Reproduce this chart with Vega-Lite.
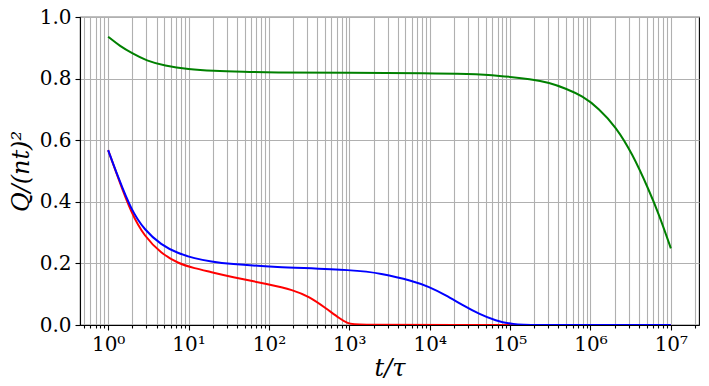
{
  "$schema": "https://vega.github.io/schema/vega-lite/v6.json",
  "width": 619,
  "height": 308,
  "autosize": {"type": "none"},
  "padding": {"left": 80, "top": 17, "right": 10, "bottom": 61},
  "background": "white",
  "config": {
    "view": {"stroke": "black", "strokeWidth": 1.1},
    "axis": {
      "domainColor": "black",
      "domainWidth": 1.1,
      "tickColor": "black",
      "tickWidth": 1.1,
      "gridColor": "#b0b0b0",
      "gridWidth": 1.1,
      "gridOpacity": 1,
      "labelFont": "DejaVu Serif",
      "labelFontSize": 20,
      "labelColor": "black",
      "titleFont": "DejaVu Serif",
      "titleFontSize": 24,
      "titleFontWeight": "normal",
      "titleFontStyle": "italic",
      "titleColor": "black"
    }
  },
  "data": {
    "values": [
      {"t": 1, "v": 0.568, "s": "red"},
      {"t": 1.32, "v": 0.480, "s": "red"},
      {"t": 1.94, "v": 0.363, "s": "red"},
      {"t": 2.84, "v": 0.287, "s": "red"},
      {"t": 4.57, "v": 0.233, "s": "red"},
      {"t": 7.36, "v": 0.200, "s": "red"},
      {"t": 11.9, "v": 0.184, "s": "red"},
      {"t": 19.1, "v": 0.172, "s": "red"},
      {"t": 33, "v": 0.157, "s": "red"},
      {"t": 100, "v": 0.132, "s": "red"},
      {"t": 200, "v": 0.114, "s": "red"},
      {"t": 316, "v": 0.092, "s": "red"},
      {"t": 513, "v": 0.054, "s": "red"},
      {"t": 750, "v": 0.022, "s": "red"},
      {"t": 955, "v": 0.005, "s": "red"},
      {"t": 1200, "v": 0.0, "s": "red"},
      {"t": 10000, "v": 0.0, "s": "red"},
      {"t": 10000000, "v": 0.0, "s": "red"},
      {"t": 1, "v": 0.568, "s": "blue"},
      {"t": 1.32, "v": 0.482, "s": "blue"},
      {"t": 1.94, "v": 0.373, "s": "blue"},
      {"t": 2.84, "v": 0.308, "s": "blue"},
      {"t": 4.57, "v": 0.260, "s": "blue"},
      {"t": 7.36, "v": 0.233, "s": "blue"},
      {"t": 11.9, "v": 0.216, "s": "blue"},
      {"t": 19.1, "v": 0.206, "s": "blue"},
      {"t": 33, "v": 0.198, "s": "blue"},
      {"t": 100, "v": 0.189, "s": "blue"},
      {"t": 1318, "v": 0.178, "s": "blue"},
      {"t": 2360, "v": 0.168, "s": "blue"},
      {"t": 6110, "v": 0.144, "s": "blue"},
      {"t": 9770, "v": 0.124, "s": "blue"},
      {"t": 15850, "v": 0.097, "s": "blue"},
      {"t": 25500, "v": 0.065, "s": "blue"},
      {"t": 41200, "v": 0.036, "s": "blue"},
      {"t": 66100, "v": 0.014, "s": "blue"},
      {"t": 107000, "v": 0.002, "s": "blue"},
      {"t": 200000, "v": 0.0, "s": "blue"},
      {"t": 1000000, "v": 0.0, "s": "blue"},
      {"t": 10000000, "v": 0.0, "s": "blue"},
      {"t": 1, "v": 0.936, "s": "green"},
      {"t": 1.41, "v": 0.905, "s": "green"},
      {"t": 2, "v": 0.882, "s": "green"},
      {"t": 3, "v": 0.858, "s": "green"},
      {"t": 5, "v": 0.842, "s": "green"},
      {"t": 10, "v": 0.830, "s": "green"},
      {"t": 20, "v": 0.825, "s": "green"},
      {"t": 50, "v": 0.822, "s": "green"},
      {"t": 100, "v": 0.820, "s": "green"},
      {"t": 1000, "v": 0.819, "s": "green"},
      {"t": 10000, "v": 0.818, "s": "green"},
      {"t": 30000, "v": 0.815, "s": "green"},
      {"t": 73000, "v": 0.810, "s": "green"},
      {"t": 189000, "v": 0.798, "s": "green"},
      {"t": 305000, "v": 0.787, "s": "green"},
      {"t": 492000, "v": 0.768, "s": "green"},
      {"t": 791000, "v": 0.744, "s": "green"},
      {"t": 1276000, "v": 0.703, "s": "green"},
      {"t": 2056000, "v": 0.644, "s": "green"},
      {"t": 3311000, "v": 0.557, "s": "green"},
      {"t": 5333000, "v": 0.438, "s": "green"},
      {"t": 7096000, "v": 0.360, "s": "green"},
      {"t": 10000000, "v": 0.249, "s": "green"}
    ]
  },
  "mark": {"type": "line", "interpolate": "basis", "strokeWidth": 2, "clip": true},
  "encoding": {
    "x": {
      "field": "t",
      "type": "quantitative",
      "scale": {"type": "log", "domain": [0.4467, 22390000], "nice": false},
      "axis": {
        "title": "t/τ",
        "titlePadding": 2,
        "values": [0.5,0.6,0.7,0.8,0.9,1,2,3,4,5,6,7,8,9,10,20,30,40,50,60,70,80,90,100,200,300,400,500,600,700,800,900,1000,2000,3000,4000,5000,6000,7000,8000,9000,10000,20000,30000,40000,50000,60000,70000,80000,90000,100000,200000,300000,400000,500000,600000,700000,800000,900000,1000000,2000000,3000000,4000000,5000000,6000000,7000000,8000000,9000000,10000000,20000000],
        "labelExpr": "abs(log(datum.value)/LN10 - round(log(datum.value)/LN10)) < 1e-6 ? '10' + ['⁰','¹','²','³','⁴','⁵','⁶','⁷'][round(log(datum.value)/LN10)] : ''",
        "labelOverlap": false,
        "labelFlush": false,
        "labelPadding": 4,
        "tickSize": {"condition": {"test": "abs(log(datum.value)/LN10 - round(log(datum.value)/LN10)) < 1e-6", "value": 5}, "value": 3}
      }
    },
    "y": {
      "field": "v",
      "type": "quantitative",
      "scale": {"domain": [0, 1], "nice": false},
      "axis": {
        "title": "Q/(nt)²",
        "values": [0, 0.2, 0.4, 0.6, 0.8, 1.0],
        "format": ".1f",
        "tickSize": 5,
        "labelPadding": 4,
        "titlePadding": 6
      }
    },
    "color": {
      "field": "s",
      "type": "nominal",
      "scale": {"domain": ["red", "blue", "green"], "range": ["#ff0000", "#0000ff", "#008000"]},
      "legend": null
    }
  }
}
